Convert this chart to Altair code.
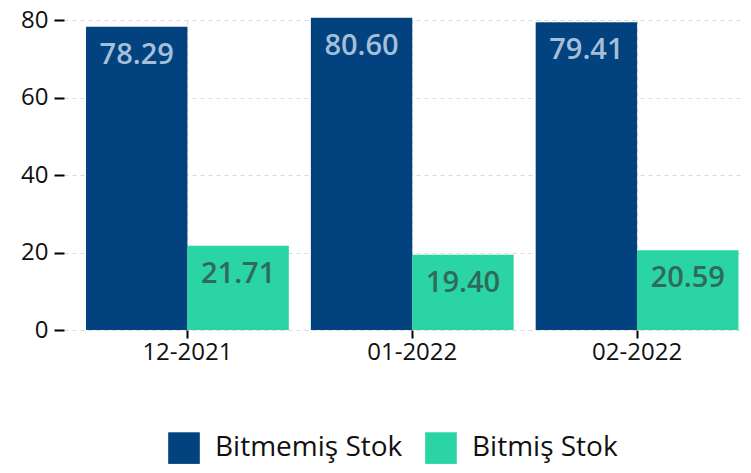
import altair as alt
import pandas as pd

months = ["12-2021", "01-2022", "02-2022"]
series = ["Bitmemiş Stok", "Bitmiş Stok"]
unfinished = [78.29, 80.60, 79.41]
finished = [21.71, 19.40, 20.59]
bar_colors = ["#01427f", "#2ad4a5"]
text_colors = ["#a6bfd9", "#2f6a5a"]

rows = []
for i, m in enumerate(months):
    rows.append({"month": m, "series": series[0], "value": unfinished[i], "tc": text_colors[0]})
    rows.append({"month": m, "series": series[1], "value": finished[i], "tc": text_colors[1]})
df = pd.DataFrame(rows)

FONT = "Open Sans"

x = alt.X("month:N", sort=months, title=None,
          scale=alt.Scale(paddingInner=0.098, paddingOuter=0.059, align=0.83),
          axis=alt.Axis(labelAngle=0, labelFontSize=24, labelColor="#111", domain=False,
                        tickColor="#000", tickSize=8, tickWidth=2, labelPadding=2, grid=True,
                        gridDash=[4, 4], gridColor="#d9d9d9"))
xo = alt.XOffset("series:N", sort=series)

bars = alt.Chart(df).mark_bar().encode(
    x=x,
    xOffset=xo,
    y=alt.Y("value:Q", title=None,
            scale=alt.Scale(domain=[0, 80]),
            axis=alt.Axis(values=[0, 20, 40, 60, 80], labelFontSize=24, labelColor="#111",
                          domain=False, tickColor="#000", tickSize=10, tickWidth=2,
                          labelPadding=6,
                          gridDash=[4, 4], gridColor="#d9d9d9")),
    color=alt.Color("series:N", sort=series, title=None,
                    scale=alt.Scale(domain=series, range=bar_colors),
                    legend=alt.Legend(orient="none", legendX=104, legendY=412,
                                      direction="horizontal",
                                      symbolType="square", symbolSize=1000,
                                      symbolStrokeWidth=0, symbolOpacity=1,
                                      labelFontSize=28, labelColor="#111",
                                      labelFont=FONT, columnPadding=22,
                                      labelOffset=15, labelLimit=400)),
)

texts = alt.Chart(df).mark_text(baseline="middle", dy=28, fontSize=29, fontWeight=600,
                                font=FONT).encode(
    x=x,
    xOffset=xo,
    y="value:Q",
    text=alt.Text("value:Q", format=".2f"),
    color=alt.Color("tc:N", scale=None),
)

chart = alt.layer(bars, texts).resolve_scale(color="independent").properties(
    width=679, height=310,
    autosize=alt.AutoSizeParams(type="none"),
    padding={"left": 56, "top": 12, "right": 0, "bottom": 143},
).configure(font=FONT).configure_view(stroke=None).configure_axis(labelFont=FONT)

chart.save("out.html", embed_options={"renderer": "svg", "actions": False})
